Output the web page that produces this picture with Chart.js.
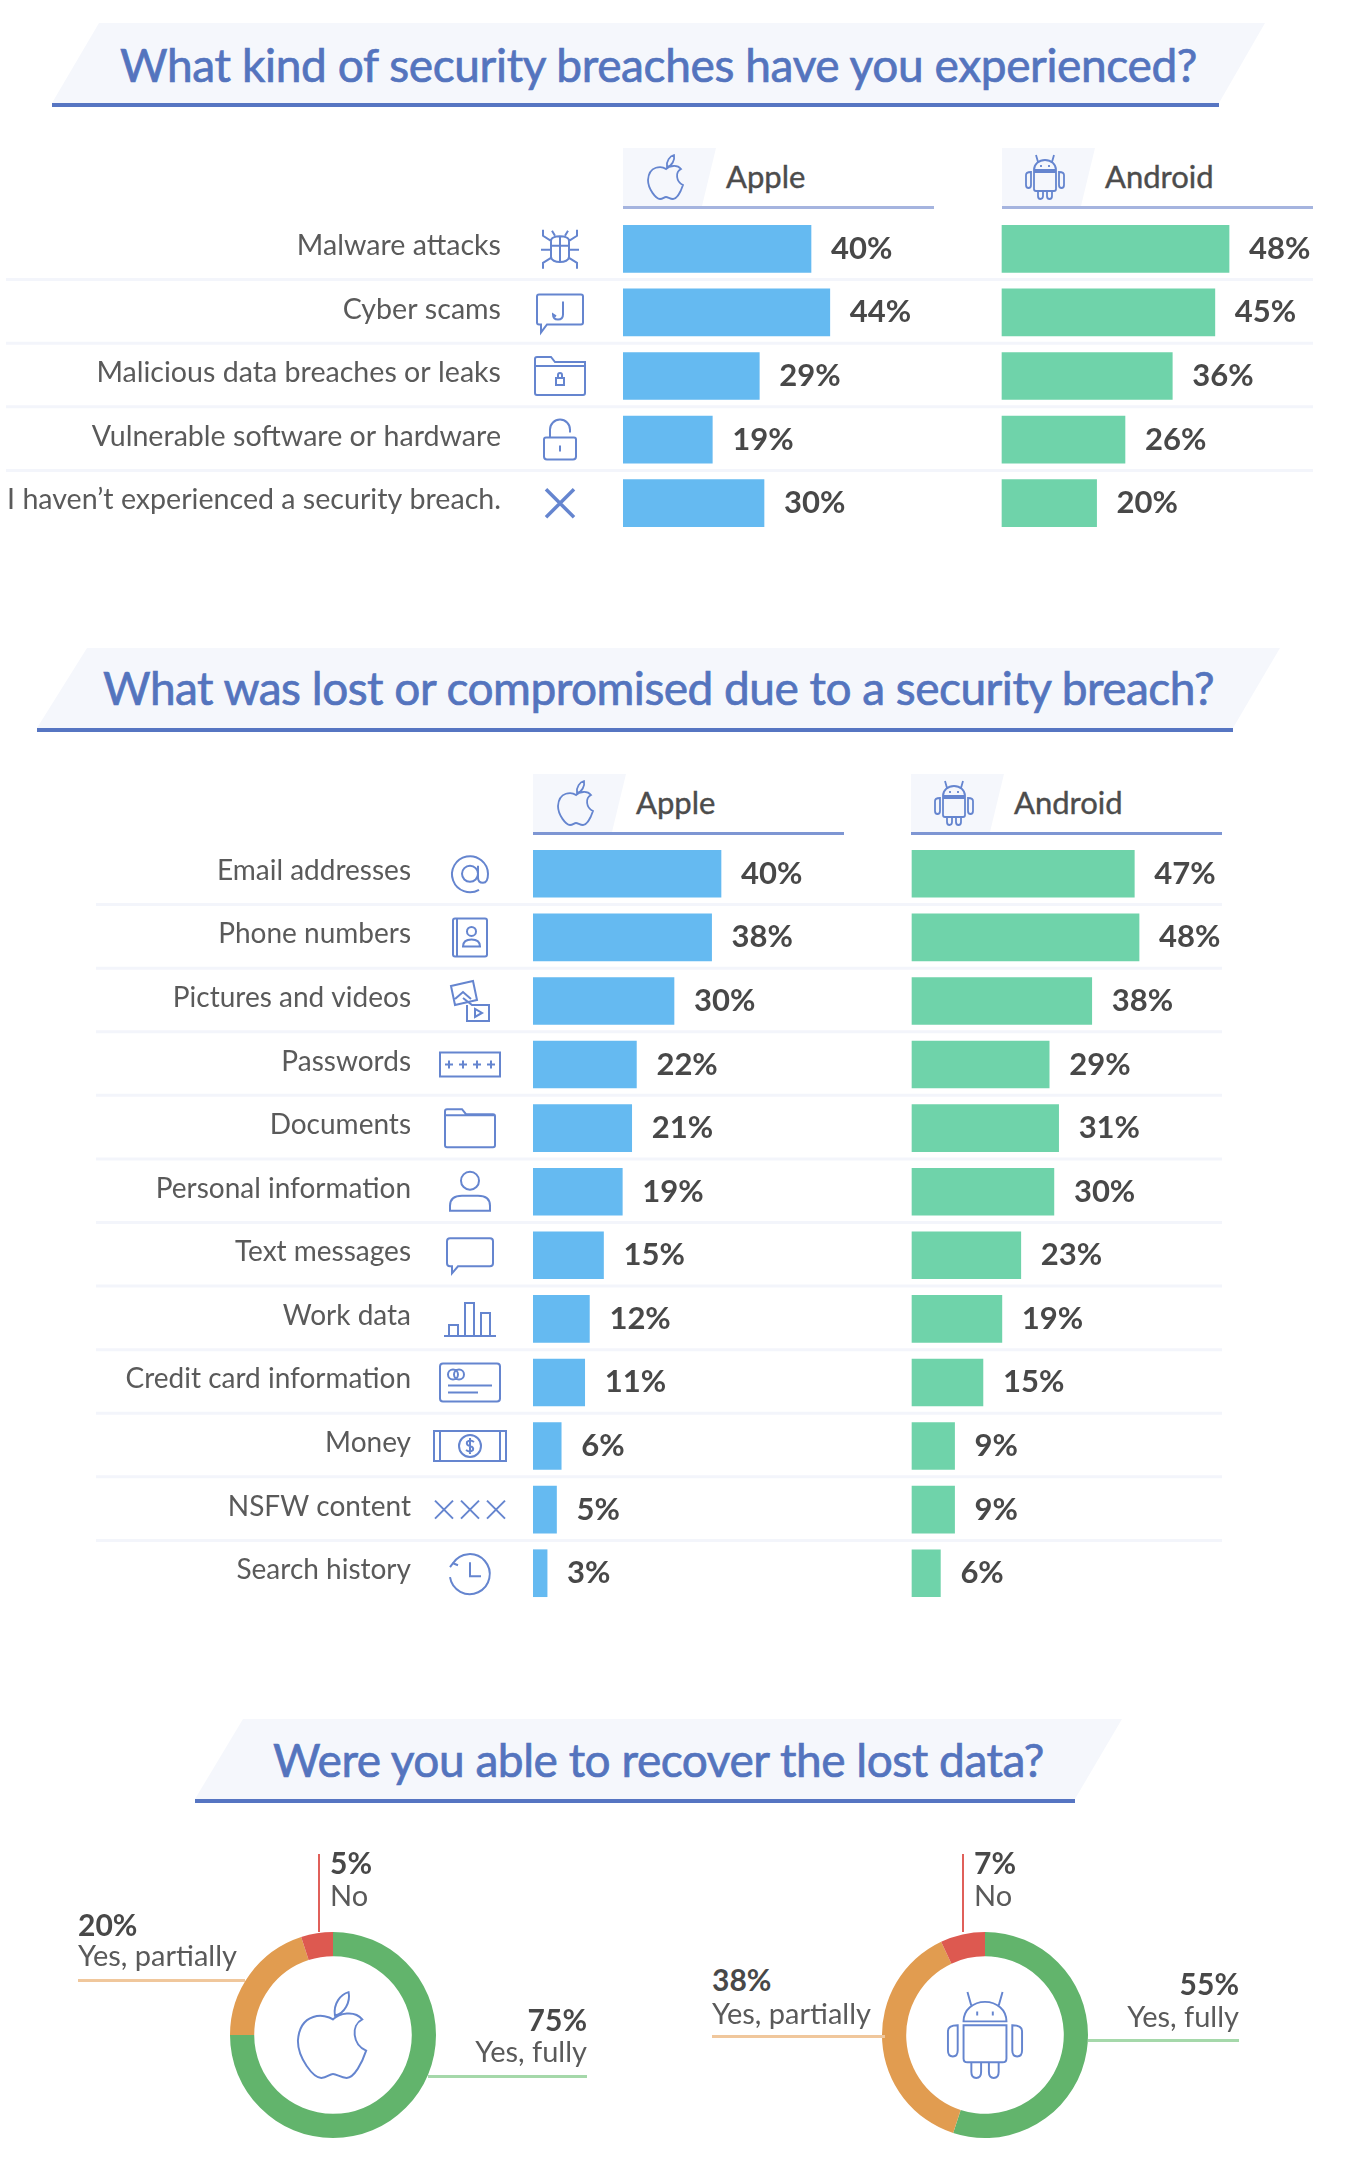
<!DOCTYPE html>
<html>
<head>
<meta charset="utf-8">
<title>Security breaches</title>
<script src="https://cdn.jsdelivr.net/npm/chart.js"></script>
<style>
    html, body { margin: 0; padding: 0; background: #fff; }
    #page { position: relative; width: 1370px; height: 2168px; overflow: hidden; font-family: Lato, sans-serif; color: #555; }
    #page > * { position: absolute; }
    .panel { background: #f5f7fc; }
    .rule { background: #5675c2; }
    .title { color: #5474be; font-size: 46px; line-height: 60px; white-space: nowrap; -webkit-text-stroke: 0.7px #5474be; }
    .head { color: #4c4c4c; font-size: 31px; line-height: 40px; -webkit-text-stroke: 0.4px #4c4c4c; }
    .pct { color: #484848; font-size: 30px; font-weight: 700; line-height: 34px; }
    .lab { color: #5a5a5a; font-size: 29px; line-height: 34px; white-space: nowrap; }
    canvas { display: block; }
</style>
</head>
<body>
<div id="page"></div>
<script>
    const breachCategories = ["Malware attacks", "Cyber scams", "Malicious data breaches or leaks", "Vulnerable software or hardware", "I haven\u2019t experienced a security breach."];
    const breachApple = [40, 44, 29, 19, 30];
    const breachAndroid = [48, 45, 36, 26, 20];

    const lostCategories = ["Email addresses", "Phone numbers", "Pictures and videos", "Passwords", "Documents", "Personal information", "Text messages", "Work data", "Credit card information", "Money", "NSFW content", "Search history"];
    const lostApple = [40, 38, 30, 22, 21, 19, 15, 12, 11, 6, 5, 3];
    const lostAndroid = [47, 48, 38, 29, 31, 30, 23, 19, 15, 9, 9, 6];

    const recoverLabels = ["Yes, fully", "Yes, partially", "No"];
    const recoverApple = [75, 20, 5];
    const recoverAndroid = [55, 38, 7];

    const BLUE = "#65baf1", GREEN = "#6fd3aa", INK = "#6585cf";
    const RING = ["#62b46c", "#e19c50", "#dd5950"];
    const LINE = ["#a5d8aa", "#f0c79c", "#e0605a"];

    // outline icons, drawn around 0,0
    const ICONS = {
        apple: "M0 -8 C-4 -11 -17 -12 -18 3 C-18 12 -10 22 -6 22 C-3 22 -2 20 0 20 C2 20 4 22 7 22 C11 22 15 14 17 8 C10 5 9 -5 15 -8 C11 -13 3 -11 0 -8 Z M1 -10 C0 -16 4 -21 8 -22 C9 -17 6 -11 1 -10 Z",
        android: "M-11 -7 C-11 -13 -6 -17 0 -17 C6 -17 11 -13 11 -7 Z M-7 -15 L-9 -22 M7 -15 L9 -22 M-4 -12 V-10 M4 -12 V-10 M-11 -5 H11 V12 Q11 14 9 14 H-9 Q-11 14 -11 12 Z M-14 -5 Q-19 -5 -19 -2 V8 Q-19 11 -16.5 11 Q-14 11 -14 8 Z M14 -5 Q19 -5 19 -2 V8 Q19 11 16.5 11 Q14 11 14 8 Z M-7 14 V19 Q-7 22 -4.5 22 Q-2 22 -2 19 V14 M2 14 V19 Q2 22 4.5 22 Q7 22 7 19 V14",
        bug: "M-9 -8 C-9 -14 9 -14 9 -8 L9 8 C9 15 -9 15 -9 8 Z M0 -12 V14 M-9 -3 H9 M-9 -8 L-17 -13 V-19 M9 -8 L17 -13 V-19 M-9 1 H-19 M9 1 H19 M-9 9 L-17 14 V20 M9 9 L17 14 V20 M-5 -13 L-8 -18 M5 -13 L8 -18",
        hook: "M-21 -18 H21 Q23 -18 23 -16 V10 Q23 12 21 12 H-13 L-19 20 V12 H-21 Q-23 12 -23 10 V-16 Q-23 -18 -21 -18 Z M3 -11 V2 Q3 7 -2 7 Q-7 7 -7 2 L-4 4",
        folderLock: "M-25 -12 V-17 Q-25 -19 -23 -19 H-9 L-5 -14 H25 V17 Q25 19 23 19 H-23 Q-25 19 -25 17 Z M-25 -10 H25 M-4 2 H4 V9 H-4 Z M-2 2 V-1 A2 2 0 0 1 2 -1 V2",
        lock: "M-14 -2 H14 Q16 -2 16 0 V17 Q16 20 13 20 H-13 Q-16 20 -16 17 V0 Q-16 -2 -14 -2 Z M-10 -2 V-10 A10 10 0 0 1 10 -10 V-7 M0 6 V12",
        cross: "M-14 -14 L14 14 M14 -14 L-14 14",
        at: "M8 0 A8 8 0 1 1 -8 0 A8 8 0 1 1 8 0 M8 -8 V4 Q8 9 13 9 Q18 9 18 0 A18 18 0 1 0 9 16",
        phone: "M-15 -19 H15 Q17 -19 17 -17 V17 Q17 19 15 19 H-15 Q-17 19 -17 17 V-17 Q-17 -19 -15 -19 Z M-13 -19 V19 M6 -6 A4.5 4.5 0 1 1 -3 -6 A4.5 4.5 0 1 1 6 -6 M-7 9 Q-7 2 1.5 2 Q10 2 10 9 Z",
        pictures: "M-19 -15 L3 -20 L7 -1 L-15 4 Z M-15 -2 L-7 -9 L1 -2 M-7 -3 L2 4 H19 V20 H-3 V4 M5 8 L12 12 L5 16 Z",
        stars: "M-30 -12 H30 V12 H-30 Z M-21 -4 V4 M-25 0 H-17 M-7 -4 V4 M-11 0 H-3 M7 -4 V4 M3 0 H11 M21 -4 V4 M17 0 H25",
        folder: "M-25 -13 V-17 Q-25 -19 -23 -19 H-8 L-4 -14 H23 Q25 -14 25 -12 V17 Q25 19 23 19 H-23 Q-25 19 -25 17 Z M-25 -13 H25",
        person: "M9 -11 A9 9 0 1 1 -9 -11 A9 9 0 1 1 9 -11 M-20 19 V14 Q-20 4 -8 4 H8 Q20 4 20 14 V19 Z",
        bubble: "M-20 -17 H20 Q23 -17 23 -14 V8 Q23 11 20 11 H-12 L-18 18 V11 H-20 Q-23 11 -23 8 V-14 Q-23 -17 -20 -17 Z",
        bars: "M-26 17 H26 M-21 17 V6 H-12 V17 M-5 17 V-16 H4 V17 M11 17 V-6 H20 V17",
        card: "M-27 -19 H27 Q30 -19 30 -16 V16 Q30 19 27 19 H-27 Q-30 19 -30 16 V-16 Q-30 -19 -27 -19 Z M-12 -8 A5 5 0 1 1 -22 -8 A5 5 0 1 1 -12 -8 M-6 -8 A5 5 0 1 1 -16 -8 A5 5 0 1 1 -6 -8 M-22 3 H22 M-22 10 H8",
        money: "M-36 -15 H36 V15 H-36 Z M-30 -15 V15 M30 -15 V15 M11 0 A11 11 0 1 1 -11 0 A11 11 0 1 1 11 0 M4 -4 Q0 -7 -3 -4 Q-4 -1 0 0 Q4 1 3 4 Q0 7 -4 4 M0 -8 V8",
        xxx: "M-35 -9 L-17 9 M-17 -9 L-35 9 M-9 -9 L9 9 M9 -9 L-9 9 M17 -9 L35 9 M35 -9 L17 9",
        clock: "M-17 -10 A20 20 0 1 1 -20 4 M-20 -6 L-17 -10 L-12 -8 M0 -11 V3 H11"
    };
    const breachIcons = ["bug", "hook", "folderLock", "lock", "cross"];
    const lostIcons = ["at", "phone", "pictures", "stars", "folder", "person", "bubble", "bars", "card", "money", "xxx", "clock"];

    const page = document.getElementById("page");

    function addBox(cls, left, top, width, height, clip) {
        const el = document.createElement("div");
        el.className = cls;
        el.style.cssText = `left:${left}px;top:${top}px;` + (width ? `width:${width}px;` : "") + (height ? `height:${height}px;` : "") + (clip ? `clip-path:polygon(${clip});` : "");
        page.appendChild(el);
        return el;
    }

    function addText(cls, text, x, centerY, rightAlign) {
        const el = addBox(cls, 0, 0);
        el.textContent = text;
        el.style.top = (centerY - parseInt(getComputedStyle(el).lineHeight) / 2) + "px";
        if (rightAlign) el.style.right = (1370 - x) + "px", el.style.left = "auto";
        else el.style.left = x + "px";
        return el;
    }

    function addIconSvg(name, cx, cy, size) {
        const svg = document.createElementNS("http://www.w3.org/2000/svg", "svg");
        svg.setAttribute("viewBox", "-24 -24 48 48");
        svg.style.cssText = `left:${cx - size / 2}px;top:${cy - size / 2}px;width:${size}px;height:${size}px;`;
        const p = document.createElementNS("http://www.w3.org/2000/svg", "path");
        p.setAttribute("d", ICONS[name]);
        p.setAttribute("fill", "none");
        p.setAttribute("stroke", INK);
        p.setAttribute("stroke-width", "1.8");
        svg.appendChild(p);
        page.appendChild(svg);
    }

    function addTitle(text, top, bottom, x0, x1, x2, x3, textX, textWidth, centerY) {
        // x0,x1 top edge; x2,x3 bottom edge
        const w = Math.max(x1, x3) - x2, h = bottom - top;
        addBox("panel", x2, top, w, h, `${x0 - x2}px 0,${x1 - x2}px 0,${x3 - x2}px ${h}px,0 ${h}px`);
        addBox("rule", x2, bottom, x3 - x2, 4);
        const t = addText("title", text, textX, centerY);
        // squeeze the letters to the measured width of the original heading
        t.style.letterSpacing = ((textWidth - t.getBoundingClientRect().width) / text.length) + "px";
    }

    function addHeader(name, label, left, top, bottom, ruleColor) {
        const h = bottom - top;
        addBox("panel", left, top, 93, h, `0 0,93px 0,79px ${h}px,0 ${h}px`);
        addBox("rule", left, bottom, 311, 3).style.background = ruleColor;
        addIconSvg(name, left + 43, (top + bottom) / 2, 48);
        addText("head", label, left + 103, (top + bottom) / 2 - 1);
    }

    const rowExtras = {
        id: "rowExtras",
        beforeDatasetsDraw(chart, args, opts) {
            const ctx = chart.ctx, y = chart.scales.y;
            ctx.save();
            ctx.strokeStyle = "#f3f5fb";
            ctx.lineWidth = 3;
            y.ticks.forEach((tick, i) => {
                if (i === y.ticks.length - 1) return;
                const py = (y.getPixelForTick(i) + y.getPixelForTick(i + 1)) / 2 - 1;
                ctx.beginPath();
                ctx.moveTo(opts.lineFrom, py);
                ctx.lineTo(opts.lineTo, py);
                ctx.stroke();
            });
            // row icons
            ctx.strokeStyle = INK;
            opts.icons.forEach((name, i) => {
                ctx.save();
                ctx.lineWidth = name === "cross" ? 3.5 : 2;
                ctx.translate(opts.iconX, y.getPixelForTick(i));
                ctx.stroke(new Path2D(ICONS[name]));
                ctx.restore();
            });
            ctx.restore();
        },
        afterDatasetsDraw(chart) {
            const ctx = chart.ctx;
            ctx.save();
            ctx.font = "700 31px Lato";
            ctx.fillStyle = "#484848";
            ctx.textBaseline = "middle";
            chart.data.datasets.forEach((ds, d) => {
                chart.getDatasetMeta(d).data.forEach((bar, i) => {
                    ctx.fillText(ds.data[i] + "%", bar.x + 20, bar.y);
                });
            });
            ctx.restore();
        }
    };

    function addBars(categories, apple, android, left, top, height, rowOpts) {
        const canvas = document.createElement("canvas");
        canvas.width = 1370;
        canvas.height = height;
        canvas.style.cssText = `left:0;top:${top}px;`;
        page.appendChild(canvas);
        new Chart(canvas, {
            type: "bar",
            data: {
                labels: categories,
                datasets: [
                    { label: "Apple", data: apple, backgroundColor: BLUE, xAxisID: "x", barThickness: 47, grouped: false },
                    { label: "Android", data: android, backgroundColor: GREEN, xAxisID: "x2", barThickness: 47, grouped: false }
                ]
            },
            plugins: [rowExtras],
            options: {
                indexAxis: "y",
                responsive: false,
                animation: false,
                devicePixelRatio: 1,
                layout: { padding: { left: 0, right: 1370 - (left + 690), top: 0, bottom: 0 } },
                plugins: {
                    legend: { display: false },
                    tooltip: { enabled: false },
                    rowExtras: rowOpts
                },
                scales: {
                    // both value axes share the plot area, each with its own zero
                    x: { type: "linear", display: false, min: 0, max: 690 / 4.7 },
                    x2: { type: "linear", axis: "x", display: false, min: -379 / 4.73, max: 311 / 4.73 },
                    y: {
                        afterFit(scale) {
                            scale.width = left;
                            // the long labels must not eat into the rows
                            scale.paddingTop = 0;
                            scale.paddingBottom = 0;
                        },
                        // tick padding also pads the axis ends, a hidden tick length does not
                        grid: { display: false, drawTicks: true, tickLength: rowOpts.labelGap },
                        border: { display: false },
                        ticks: { autoSkip: false, padding: 0, color: "#5a5a5a", font: { family: "Lato", size: rowOpts.fontSize }, labelOffset: -3 }
                    }
                }
            }
        });
    }

    const centerIcon = {
        id: "centerIcon",
        afterDraw(chart, args, opts) {
            const ctx = chart.ctx;
            ctx.save();
            ctx.translate(chart.width / 2, chart.height / 2);
            ctx.scale(1.95, 1.95);
            ctx.strokeStyle = INK;
            ctx.lineWidth = 1;
            ctx.stroke(new Path2D(ICONS[opts.name]));
            ctx.restore();
        }
    };

    function addDonut(values, cx, cy, icon) {
        const canvas = document.createElement("canvas");
        canvas.width = 208;
        canvas.height = 208;
        canvas.style.cssText = `left:${cx - 104}px;top:${cy - 104}px;`;
        page.appendChild(canvas);
        new Chart(canvas, {
            type: "doughnut",
            data: { labels: recoverLabels, datasets: [{ data: values, backgroundColor: RING, borderWidth: 0 }] },
            plugins: [centerIcon],
            options: {
                responsive: false,
                animation: false,
                devicePixelRatio: 1,
                cutout: "76.5%",
                layout: { padding: 1 },
                plugins: { legend: { display: false }, tooltip: { enabled: false }, centerIcon: { name: icon } }
            }
        });
    }

    // callout: percentage and label for one slice
    function addCallout(i, value, x, pctY, labY, rightAlign) {
        addText("pct", value + "%", x, pctY, rightAlign);
        addText("lab", recoverLabels[i], x, labY, rightAlign);
    }

    // Section 1
    addTitle("What kind of security breaches have you experienced?", 23, 103, 99, 1265, 52, 1219, 120, 1077, 65);
    addHeader("apple", "Apple", 623, 148, 206, "#a5b4df");
    addHeader("android", "Android", 1002, 148, 206, "#a5b4df");
    addBars(breachCategories, breachApple, breachAndroid, 623, 217, 318, { icons: breachIcons, iconX: 560, lineFrom: 6, lineTo: 1313, labelGap: 122, fontSize: 28.6 });

    // Section 2
    addTitle("What was lost or compromised due to a security breach?", 648, 728, 87, 1280, 37, 1233, 103, 1111, 688);
    addHeader("apple", "Apple", 533, 774, 832, "#7e96d3");
    addHeader("android", "Android", 911, 774, 832, "#7e96d3");
    addBars(lostCategories, lostApple, lostAndroid, 533, 842, 763, { icons: lostIcons, iconX: 470, lineFrom: 96, lineTo: 1222, labelGap: 122, fontSize: 28 });

    // Section 3
    addTitle("Were you able to recover the lost data?", 1719, 1799, 243, 1122, 195, 1075, 273, 771, 1760);
    addDonut(recoverApple, 332.5, 2035, "apple");
    addDonut(recoverAndroid, 985, 2035, "android");

    addBox("", 318, 1854, 2, 78).style.background = LINE[2];
    addCallout(2, recoverApple[2], 330, 1862, 1895);
    addBox("", 78, 1979, 167, 3).style.background = LINE[1];
    addCallout(1, recoverApple[1], 78, 1924, 1955);
    addBox("", 428, 2075, 159, 3).style.background = LINE[0];
    addCallout(0, recoverApple[0], 587, 2019, 2051, true);

    addBox("", 962, 1854, 2, 78).style.background = LINE[2];
    addCallout(2, recoverAndroid[2], 974, 1862, 1895);
    addBox("", 712, 2035, 173, 3).style.background = LINE[1];
    addCallout(1, recoverAndroid[1], 712, 1979, 2013);
    addBox("", 1088, 2039, 151, 3).style.background = LINE[0];
    addCallout(0, recoverAndroid[0], 1239, 1983, 2016, true);
</script>
</body>
</html>
